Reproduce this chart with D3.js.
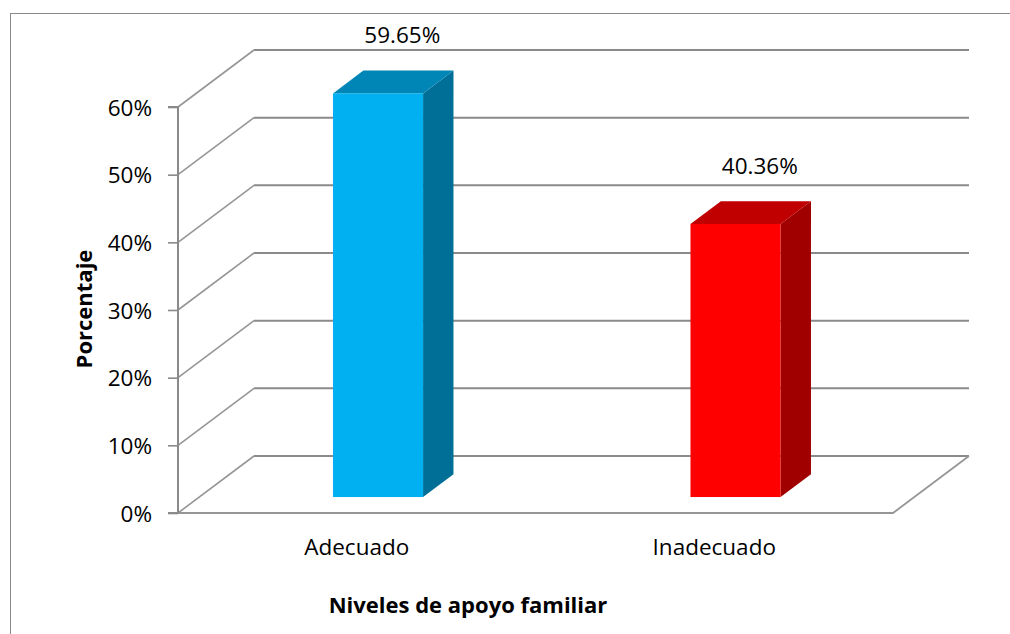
<!DOCTYPE html>
<html>
<head>
<meta charset="utf-8">
<script src="https://cdn.jsdelivr.net/npm/d3@7"></script>
<style>
  body { margin: 0; background: #fff; }
  text { font-family: "Open Sans", sans-serif; fill: #000; }
  .tickLabel, .catLabel, .valueLabel { font-size: 22.5px; }
  .axisTitle { font-size: 22px; font-weight: bold; }
</style>
</head>
<body>
<div id="chart"></div>
<script>
const categories = ["Adecuado", "Inadecuado"];
const values = [0.5965, 0.4036];
const valueLabels = ["59.65%", "40.36%"];
const yTicks = [0, 0.1, 0.2, 0.3, 0.4, 0.5, 0.6];
const frontColours = ["#00b0f0", "#ff0000"];
const topColours = ["#0086b6", "#c00000"];
const sideColours = ["#006f97", "#a00000"];

const width = 1010;
const height = 634;

// front plane of the plot and the depth vector of the box
const plot = { left: 178, right: 893, top: 107, bottom: 513 };
const depth = { dx: 76, dy: -57 };
const barFront = 0.28, barBack = 0.68;

const svg = d3.select("#chart").append("svg")
   .attr("width", width)
   .attr("height", height);

svg.append("rect")
   .attr("x", 10.5)
   .attr("y", 13.5)
   .attr("width", 1010)
   .attr("height", 640)
   .attr("fill", "none")
   .attr("stroke", "#898989")
   .attr("stroke-width", 1);

const x = d3.scaleBand()
   .domain(categories)
   .range([plot.left, plot.right])
   .paddingInner(0.748)
   .paddingOuter(0.374);

const y = d3.scaleLinear()
   .domain([0, 0.6])
   .range([plot.bottom, plot.top]);

// back wall gridlines
svg.selectAll("line.backGrid")
   .data(yTicks)
   .enter()
   .append("line")
   .attr("class", "backGrid")
   .attr("x1", plot.left + depth.dx)
   .attr("x2", plot.right + depth.dx)
   .attr("y1", d => y(d) + depth.dy)
   .attr("y2", d => y(d) + depth.dy)
   .attr("stroke", "#8a8a8a")
   .attr("stroke-width", 2);

// side wall gridlines
svg.selectAll("line.sideGrid")
   .data(yTicks)
   .enter()
   .append("line")
   .attr("class", "sideGrid")
   .attr("x1", plot.left)
   .attr("x2", plot.left + depth.dx)
   .attr("y1", d => y(d))
   .attr("y2", d => y(d) + depth.dy)
   .attr("stroke", "#969696")
   .attr("stroke-width", 1.6);

// floor edges
svg.append("path")
   .attr("d", `M${plot.left},${y(0)}H${plot.right}L${plot.right + depth.dx},${y(0) + depth.dy}`)
   .attr("fill", "none")
   .attr("stroke", "#969696")
   .attr("stroke-width", 1.8);

// value axis
const yAxis = d3.axisLeft(y)
   .tickValues(yTicks)
   .tickSize(10)
   .tickFormat(d3.format(".0%"));

const axisG = svg.append("g")
   .attr("transform", `translate(${plot.left}, 0)`)
   .call(yAxis);
axisG.select(".domain")
   .attr("stroke", "#8a8a8a")
   .attr("stroke-width", 2)
   .attr("d", `M-10,${y(0.6)}H0V${y(0)}H-10`);
axisG.selectAll(".tick line")
   .attr("stroke", "#8a8a8a")
   .attr("stroke-width", 1.6);
axisG.selectAll(".tick text")
   .attr("class", "tickLabel")
   .attr("x", -26)
   .attr("dy", "0.36em")
   .style("fill", "#000");
axisG.attr("font-family", null).attr("font-size", null);

// bars
const bars = categories.map((c, i) => {
   const x0 = x(c) + barFront * depth.dx;
   const ox = (barBack - barFront) * depth.dx;
   const oy = (barBack - barFront) * depth.dy;
   const yTop = y(values[i]) + barFront * depth.dy;
   const yBot = y(0) + barFront * depth.dy;
   return { i, x0, x1: x0 + x.bandwidth(), yTop, yBot, ox, oy };
});

const barG = svg.selectAll("g.bar")
   .data(bars)
   .enter()
   .append("g")
   .attr("class", "bar");

barG.append("path")
   .attr("d", d => `M${d.x1},${d.yTop}L${d.x1 + d.ox},${d.yTop + d.oy}V${d.yBot + d.oy}L${d.x1},${d.yBot}Z`)
   .attr("fill", d => sideColours[d.i]);

barG.append("path")
   .attr("d", d => `M${d.x0},${d.yTop}L${d.x0 + d.ox},${d.yTop + d.oy}H${d.x1 + d.ox}L${d.x1},${d.yTop}Z`)
   .attr("fill", d => topColours[d.i]);

barG.append("rect")
   .attr("x", d => d.x0)
   .attr("y", d => d.yTop)
   .attr("width", x.bandwidth())
   .attr("height", d => d.yBot - d.yTop)
   .attr("fill", d => frontColours[d.i]);

// value labels
svg.selectAll("text.valueLabel")
   .data(categories)
   .enter()
   .append("text")
   .attr("class", "valueLabel")
   .attr("x", d => x(d) + x.bandwidth() / 2 + 0.6 * depth.dx)
   .attr("y", (d, i) => y(values[i]) - 66)
   .attr("text-anchor", "middle")
   .text((d, i) => valueLabels[i]);

// category labels
svg.selectAll("text.catLabel")
   .data(categories)
   .enter()
   .append("text")
   .attr("class", "catLabel")
   .attr("x", d => x(d) + x.bandwidth() / 2)
   .attr("y", 555)
   .attr("text-anchor", "middle")
   .text(d => d);

svg.append("text")
   .attr("class", "axisTitle")
   .attr("x", 468)
   .attr("y", 613)
   .attr("text-anchor", "middle")
   .text("Niveles de apoyo familiar");

svg.append("text")
   .attr("class", "axisTitle")
   .attr("transform", "translate(92, 309) rotate(-90)")
   .attr("text-anchor", "middle")
   .text("Porcentaje");
</script>
</body>
</html>
